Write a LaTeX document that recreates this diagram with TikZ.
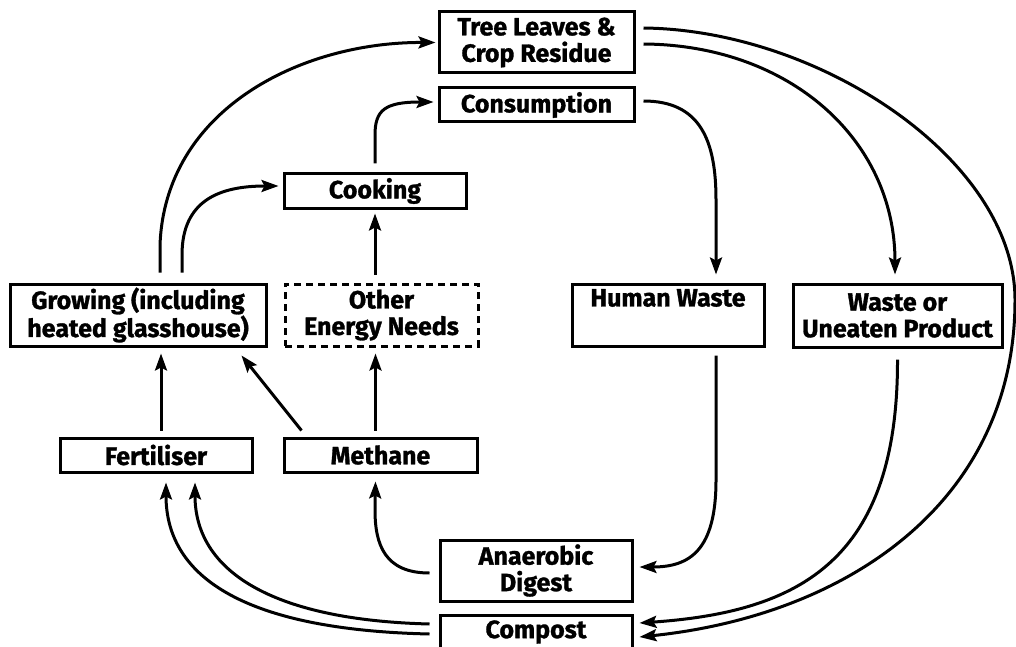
\documentclass[tikz,border=0pt]{standalone}
\usepackage{fontspec}
\setmainfont{Fira Sans}[BoldFeatures={FakeBold=1.2}]
\usetikzlibrary{arrows.meta,calc}
\begin{document}
\begin{tikzpicture}[x=1pt,y=-1pt,
  box/.style={draw,line width=3pt,inner sep=0pt,align=center,
     font=\fontsize{25}{26.5}\selectfont\bfseries},
  arr/.style={line width=3pt,-{Stealth[length=17pt,width=12pt,inset=3pt]}}]
\useasboundingbox (0,0) rectangle (1016,647);
% nodes
\node[box,minimum width=195pt,minimum height=61pt] (tree) at (536.5,42.5) {Tree Leaves \&\\Crop Residue};
\node[box,minimum width=195pt,minimum height=34pt] (cons) at (536.5,105) {Consumption};
\node[box,minimum width=182pt,minimum height=34pt] (cook) at (375,191) {Cooking};
\node[box,minimum width=256pt,minimum height=62pt] (grow) at (138,315) {Growing (including\\heated glasshouse)};
\node[box,dashed,dash pattern=on 7pt off 5pt,minimum width=193pt,minimum height=62pt] (other) at (381.5,315) {Other\\Energy Needs};
\node[box,minimum width=192pt,minimum height=34pt] (fert) at (156,455) {Fertiliser};
\node[box,minimum width=193pt,minimum height=34pt] (meth) at (380.5,455) {Methane};
\node[box,minimum width=192pt,minimum height=62pt] (human) at (668,315) {Human Waste\\\strut};
\node[box,minimum width=209pt,minimum height=63pt] (waste) at (897.5,315.5) {Waste or\\Uneaten Product};
\node[box,minimum width=192pt,minimum height=61pt] (anae) at (536,570.5) {Anaerobic\\Digest};
\node[box,minimum width=192pt,minimum height=34pt] (comp) at (536,632) {Compost};
% connectors
\draw[arr] ($(grow.north)+(22,-10)$) -- (160,245) .. controls (165,110) and (300,42) .. ($(tree.west)+(-2,0)$);
\draw[arr] ($(grow.north)+(44,-10)$) -- (182,255) .. controls (182,200) and (220,186) .. ($(cook.west)+(-4,-5)$);
\draw[arr] ($(cook.north)+(0,-9)$) -- (375,135) .. controls (375,110) and (385,102) .. ($(cons.west)+(-4,-3)$);
\draw[arr] ($(cook.south |- other.north)+(0,-8)$) -- ($(cook.south)+(0,4)$);
\draw[arr] ($(fert.north)+(5,-6)$) -- ($(fert.north |- grow.south)+(5,6)$);
\draw[arr] ($(meth.north west)+(19,-6)$) -- ($(grow.south east)+(-26,8)$);
\draw[arr] ($(meth.north)+(-5,-6)$) -- ($(meth.north |- other.south)+(-5,6)$);
\draw[arr] ($(anae.west)+(-9,2.5)$) .. controls (385,573) and (375,545) .. (375,510) -- ($(meth.south)+(-5,8)$);
\draw[arr] ($(comp.west)+(-9,-8)$) .. controls (270,620) and (195,570) .. ($(fert.south)+(39,9)$);
\draw[arr] ($(comp.west)+(-9,2)$) .. controls (250,630) and (166,580) .. ($(fert.south)+(10,9)$);
\draw[arr] ($(cons.east)+(8,-4)$) .. controls (700,101) and (716,140) .. (716,200) -- ($(human.north)+(48,-8)$);
\draw[arr] ($(tree.east)+(8,1.5)$) .. controls (790,45) and (895,140) .. ($(waste.north)+(-2.5,-8)$);
\draw[arr] ($(tree.east)+(8,-14.5)$) .. controls (820,30) and (1015,160) .. (1015,300) .. controls (1015,500) and (850,615) .. ($(comp.east)+(6,5)$);
\draw[arr] ($(human.south)+(48,8)$) -- (716,480) .. controls (716,550) and (690,567) .. ($(anae.east)+(6,-3.5)$);
\draw[arr] ($(waste.south)+(0,11)$) .. controls (898,560) and (800,612) .. ($(comp.east)+(6,-9)$);
\end{tikzpicture}
\end{document}
